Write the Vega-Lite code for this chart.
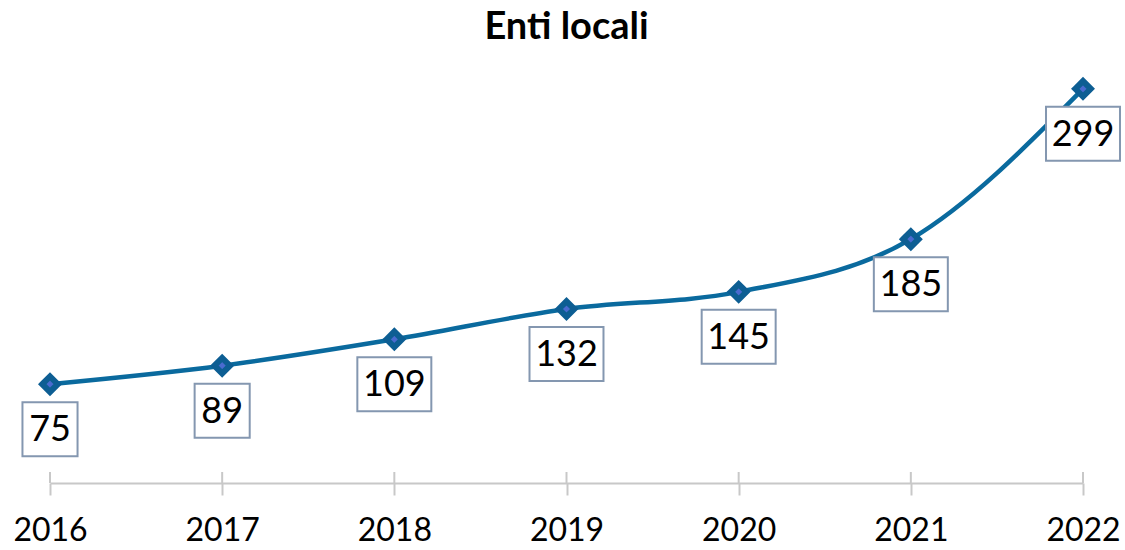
{
  "$schema": "https://vega.github.io/schema/vega-lite/v6.json",
  "autosize": "none",
  "width": 1033,
  "height": 435,
  "padding": {"left": 50, "top": 48, "right": 42, "bottom": 67},
  "background": "white",
  "config": {"view": {"stroke": null}, "font": "Lato"},
  "title": {"text": "Enti locali", "font": "Lato", "fontSize": 38, "fontWeight": "bold", "color": "#000000", "anchor": "middle", "offset": 1},
  "data": {"values": [
    {"year": 2016, "value": 75},
    {"year": 2017, "value": 89},
    {"year": 2018, "value": 109},
    {"year": 2019, "value": 132},
    {"year": 2020, "value": 145},
    {"year": 2021, "value": 185},
    {"year": 2022, "value": 299}
  ]},
  "encoding": {
    "x": {"field": "year", "type": "quantitative",
      "scale": {"domain": [2016, 2022], "nice": false, "zero": false},
      "axis": {"values": [2016, 2017, 2018, 2019, 2020, 2021, 2022], "format": "d", "title": null, "grid": false,
        "labelFont": "Lato", "labelFontSize": 32, "labelColor": "#000000", "labelFlush": false, "labelPadding": 20,
        "domainColor": "#c8c8c8", "domainWidth": 2, "tickColor": "#c8c8c8", "tickWidth": 2, "tickSize": 12}},
    "y": {"field": "value", "type": "quantitative", "scale": {"domain": [0, 330], "nice": false}, "axis": null}
  },
  "layer": [
    {"mark": {"type": "rule", "color": "#c8c8c8", "strokeWidth": 2, "y2Offset": -11},
     "encoding": {"y": {"datum": 0}, "y2": {"datum": 0}}},
    {"mark": {"type": "line", "interpolate": "monotone", "color": "#0a6a9e", "strokeWidth": 4.5}},
    {"transform": [{"filter": "datum.value < 100"}],
     "mark": {"type": "point", "shape": "M-1.02,-1H1.02V1H-1.02Z", "size": 2916, "filled": true, "fill": "white", "stroke": "#8497b0", "strokeWidth": 2, "opacity": 1, "yOffset": 45}},
    {"transform": [{"filter": "datum.value >= 100"}],
     "mark": {"type": "point", "shape": "M-1.37,-1H1.37V1H-1.37Z", "size": 2916, "filled": true, "fill": "white", "stroke": "#8497b0", "strokeWidth": 2, "opacity": 1, "yOffset": 45}},
    {"mark": {"type": "text", "font": "Lato", "fontSize": 36, "color": "#000000", "baseline": "middle", "align": "center", "dy": 46},
     "encoding": {"text": {"field": "value", "type": "quantitative", "format": "d"}}},
    {"mark": {"type": "point", "shape": "diamond", "size": 240, "filled": true, "fill": "#4a6bcf", "stroke": "#0d5e93", "strokeWidth": 6, "opacity": 1}}
  ]
}
